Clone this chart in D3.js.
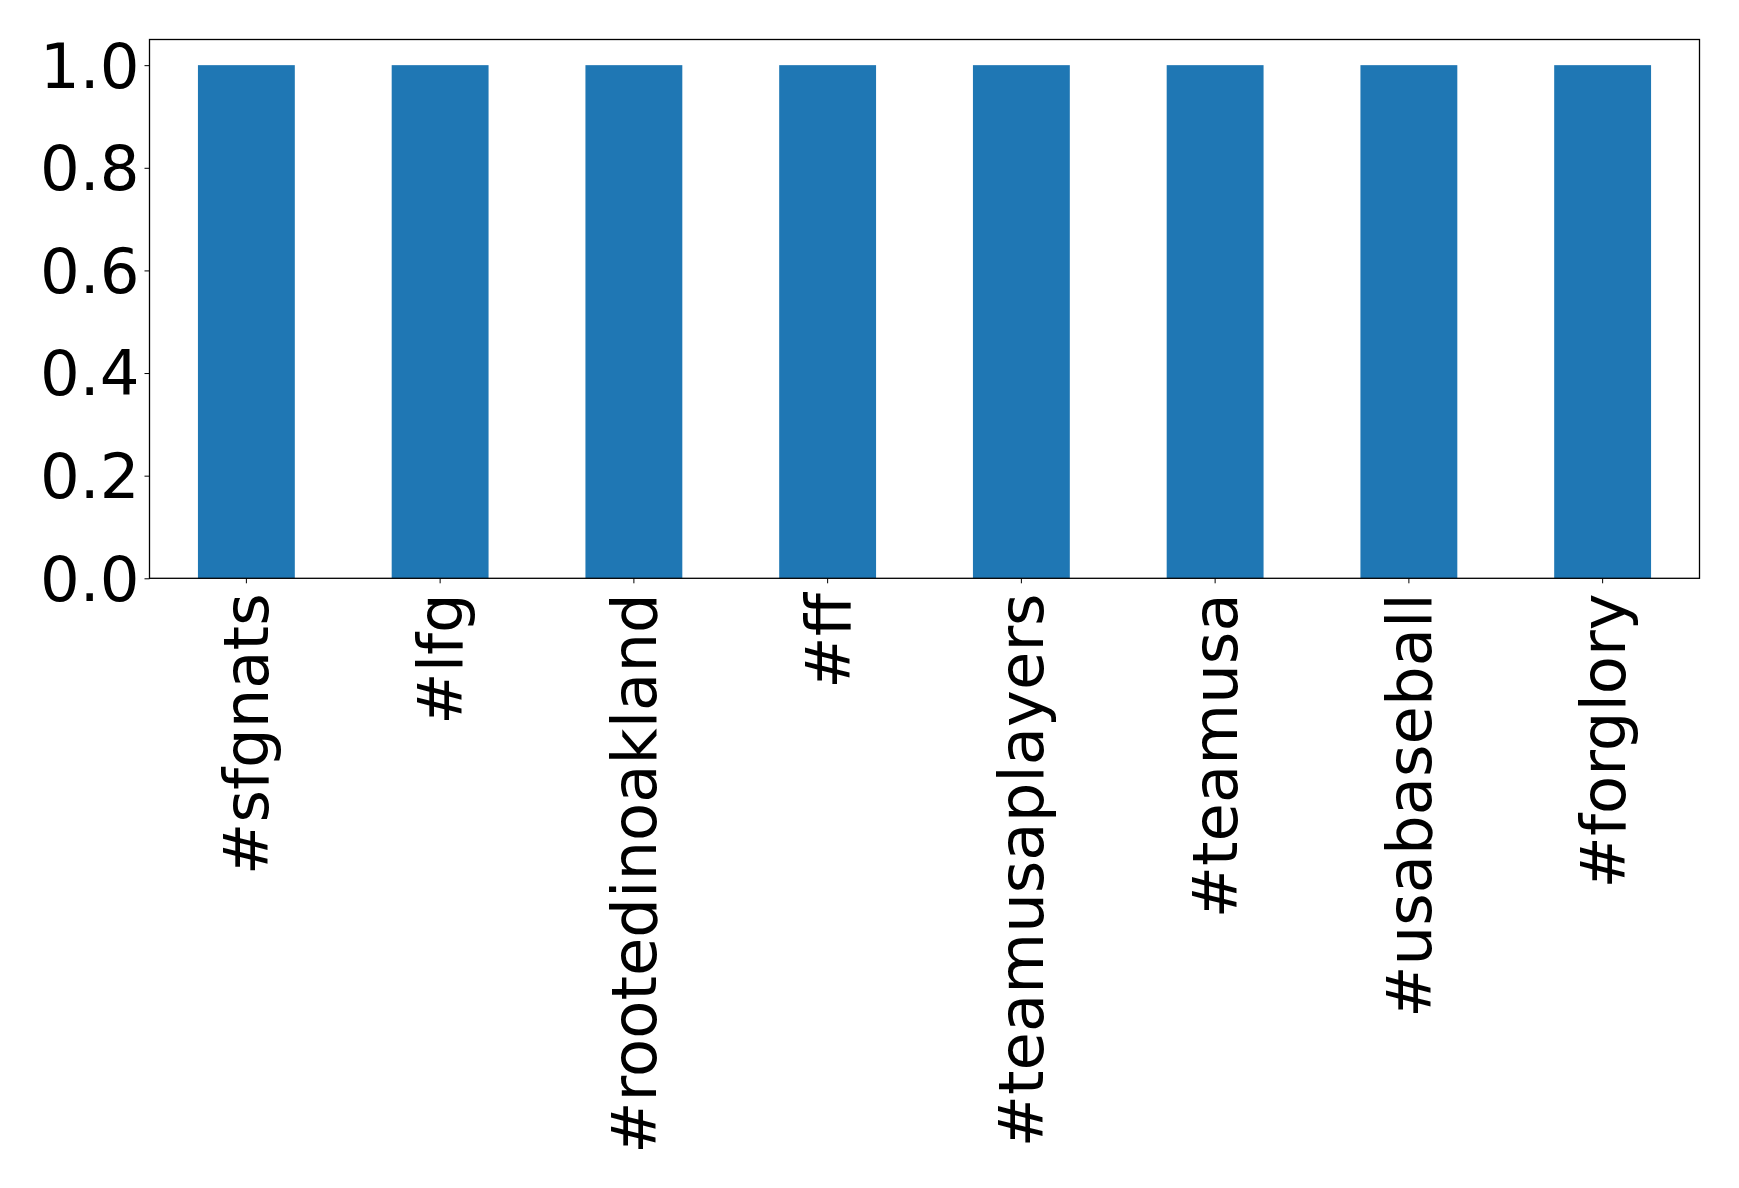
<!DOCTYPE html>
<html><head><meta charset="utf-8">
<script src="https://cdn.jsdelivr.net/npm/d3@7"></script>
<style>body{margin:0;background:#fff}svg{display:block}</style>
</head><body>
<script>
const categories = ["#sfgnats","#lfg","#rootedinoakland","#ff","#teamusaplayers","#teamusa","#usabaseball","#forglory"];
const values = [1,1,1,1,1,1,1,1];
const yTicks = [0,0.2,0.4,0.6,0.8,1.0];

const W = 1739, H = 1188;
const m = {left:149.5, right:1699.5, top:39.5, bottom:578.3};
const fontSize = 62.5;
const svg = d3.select("body").append("svg").attr("width", W).attr("height", H);

const x = d3.scaleBand().domain(categories).range([m.left, m.right]).paddingInner(0.5).paddingOuter(0.25);
const y = d3.scaleLinear().domain([0, 1.05]).range([m.bottom, m.top]);

svg.append("g").selectAll("rect").data(categories).join("rect")
  .attr("x", d => x(d)).attr("width", x.bandwidth())
  .attr("y", (d,i) => y(values[i])).attr("height", (d,i) => y(0) - y(values[i]))
  .attr("fill", "#1f77b4");

const yAxis = svg.append("g").attr("transform", `translate(${m.left},0)`)
  .call(d3.axisLeft(y).tickValues(yTicks).tickFormat(d3.format(".1f")).tickSize(5).tickPadding(5));
const xAxis = svg.append("g").attr("transform", `translate(0,${m.bottom})`)
  .call(d3.axisBottom(x).tickSize(5).tickPadding(5));

[yAxis, xAxis].forEach(g => {
  g.select(".domain").remove();
  g.selectAll("line").attr("stroke", "#000").attr("stroke-width", 1);
  g.selectAll("text").attr("font-family", "DejaVu Sans").attr("font-size", fontSize).attr("fill", "#000");
});
yAxis.selectAll("text").attr("dy", "0.35em");
xAxis.selectAll("text")
  .attr("transform", "rotate(-90)")
  .attr("text-anchor", "end")
  .attr("x", -15).attr("y", 0).attr("dy", "0.35em");

svg.append("rect").attr("x", m.left).attr("y", m.top)
  .attr("width", m.right - m.left).attr("height", m.bottom - m.top)
  .attr("fill", "none").attr("stroke", "#000").attr("stroke-width", 1.3);
</script>
</body></html>
